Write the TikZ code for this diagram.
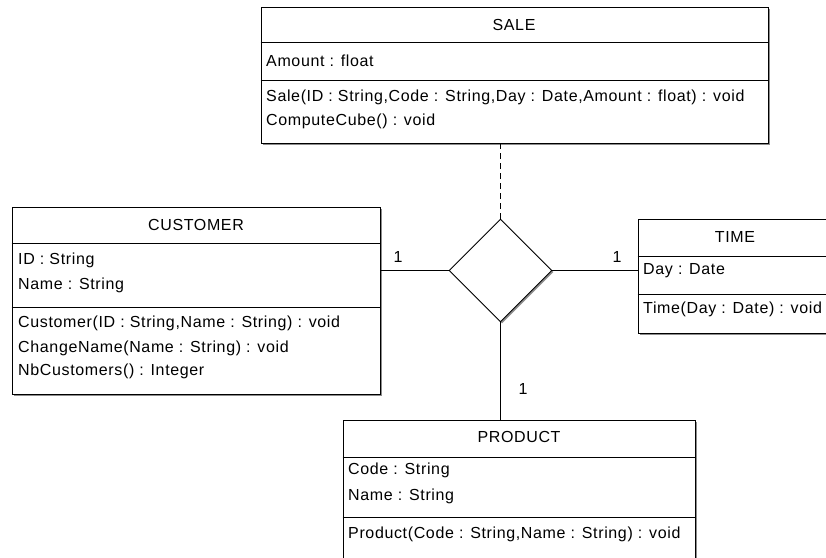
\documentclass[tikz,border=0pt]{standalone}
\usepackage{fontspec}
\setmainfont{Liberation Sans}[LetterSpace=4]
\usetikzlibrary{shapes.geometric,shadows}
\tikzset{
  classbox/.style={draw, fill=white, line width=0.9pt, inner sep=0pt,
    drop shadow={shadow xshift=1.5pt, shadow yshift=-1.5pt, fill=black!45, opacity=1}},
  member/.style={anchor=west, inner sep=0pt, font=\fontsize{16}{18}\selectfont},
  classname/.style={inner sep=0pt, font=\fontsize{16}{18}\selectfont},
  mult/.style={inner sep=0pt, font=\fontsize{16}{18}\selectfont},
  link/.style={line width=0.9pt}
}
\begin{document}
\begin{tikzpicture}[x=1pt,y=-1pt]
    \useasboundingbox[fill=white] (0,0) rectangle (826,557);
    % classes
    \node[classbox, minimum width=507pt, minimum height=136pt] (sale) at (514.5,75) {};
    \node[classbox, minimum width=368pt, minimum height=187pt] (customer) at (196,300.5) {};
    \node[classbox, minimum width=194pt, minimum height=114pt] (time) at (735,276) {};
    \node[classbox, minimum width=352pt, minimum height=150pt] (product) at (519,495) {};
    % association
    \node[classbox, diamond, minimum width=103pt, minimum height=103pt, aspect=1] (rel) at (500.5,270.5) {};
    % compartments
    \draw[link] (sale.west |- 0,42) -- (sale.east |- 0,42);
    \draw[link] (sale.west |- 0,80) -- (sale.east |- 0,80);
    \draw[link] (customer.west |- 0,243) -- (customer.east |- 0,243);
    \draw[link] (customer.west |- 0,307) -- (customer.east |- 0,307);
    \draw[link] (time.west |- 0,256) -- (time.east |- 0,256);
    \draw[link] (time.west |- 0,294) -- (time.east |- 0,294);
    \draw[link] (product.west |- 0,457) -- (product.east |- 0,457);
    \draw[link] (product.west |- 0,517) -- (product.east |- 0,517);
    % SALE
    \node[classname] (saletitle) at (514,25) {SALE};
    \node[member] (saleamount) at (266,61) {Amount : float};
    \node[member] (salector) at (266,97) {Sale(ID : String,Code : String,Day : Date,Amount : float) : void};
    \node[member] (salecube) at (266,121) {ComputeCube() : void};
    % CUSTOMER
    \node[classname] (customertitle) at (196,225) {CUSTOMER};
    \node[member] (customerid) at (18,260) {ID : String};
    \node[member] (customername) at (18,285) {Name : String};
    \node[member] (customerctor) at (18,323) {Customer(ID : String,Name : String) : void};
    \node[member] (customerchange) at (18,348) {ChangeName(Name : String) : void};
    \node[member] (customercount) at (18,371) {NbCustomers() : Integer};
    % TIME
    \node[classname] (timetitle) at (735,237) {TIME};
    \node[member] (timeday) at (643,271) {Day : Date};
    \node[member] (timector) at (643,309) {Time(Day : Date) : void};
    % PRODUCT
    \node[classname] (producttitle) at (519,437) {PRODUCT};
    \node[member] (productcode) at (348,470) {Code : String};
    \node[member] (productname) at (348,496) {Name : String};
    \node[member] (productctor) at (348,534) {Product(Code : String,Name : String) : void};
    % links
    \draw[link] (rel.west) -- (rel.west -| customer.east);
    \draw[link] (rel.east) -- (rel.east -| time.west);
    \draw[link] (rel.south) -- (rel.south |- product.north);
    \draw[link, dash pattern=on 6pt off 4pt] (rel.north) -- (rel.north |- sale.south);
    % multiplicities
    \node[mult] (mcustomer) at (398,257) {1};
    \node[mult] (mtime) at (617,257) {1};
    \node[mult] (mproduct) at (523,389) {1};
\end{tikzpicture}
\end{document}
